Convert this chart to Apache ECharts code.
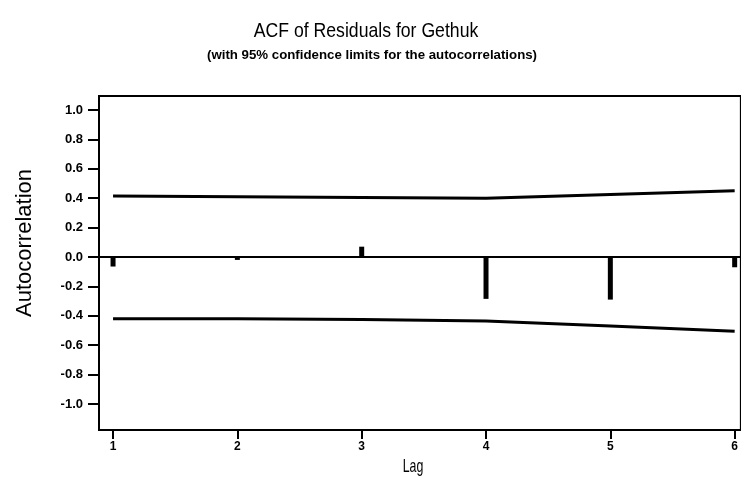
<!DOCTYPE html>
<html><head><meta charset="utf-8">
<script src="https://cdn.jsdelivr.net/npm/echarts@6/dist/echarts.min.js"></script>
<style>html,body{margin:0;padding:0;background:#fff}#c{width:741px;height:484px}</style>
</head><body><div id="c"></div>
<script>
var lags = [1, 2, 3, 4, 5, 6];
var acf = [-0.065, -0.02, 0.07, -0.285, -0.29, -0.07];
var upperLimit = [0.415, 0.41, 0.405, 0.40, 0.425, 0.45];
var lowerLimit = [-0.42, -0.42, -0.425, -0.435, -0.47, -0.505];
var yTicks = [-1.0, -0.8, -0.6, -0.4, -0.2, 0.0, 0.2, 0.4, 0.6, 0.8, 1.0];
var xTicks = [1, 2, 3, 4, 5, 6];
var titleText = 'ACF of Residuals for Gethuk';
var subtitleText = '(with 95% confidence limits for the autocorrelations)';
var xName = 'Lag';
var yName = 'Autocorrelation';

var chart = echarts.init(document.getElementById('c'));
var sans = '"Liberation Sans", Arial, sans-serif';
chart.setOption({
  backgroundColor: '#fff',
  animation: false,
  graphic: [
    {type: 'text', x: 366, y: 31, scaleX: 0.84,
     style: {text: titleText, font: 'normal 21px ' + sans, fill: '#000', textAlign: 'center', textVerticalAlign: 'middle'}},
    {type: 'text', x: 372, y: 55, scaleX: 1.02,
     style: {text: subtitleText, font: 'bold 13px ' + sans, fill: '#000', textAlign: 'center', textVerticalAlign: 'middle'}},
    {type: 'text', x: 413, y: 467, scaleX: 0.65,
     style: {text: xName, font: 'normal 19px ' + sans, fill: '#000', textAlign: 'center', textVerticalAlign: 'middle'}},
    {type: 'text', x: 25, y: 243, rotation: Math.PI / 2,
     style: {text: yName, font: 'normal 22px ' + sans, fill: '#000', textAlign: 'center', textVerticalAlign: 'middle'}}
  ],
  grid: {left: 99, right: 0, top: 96, bottom: 54, show: true, borderColor: '#000', borderWidth: 2, backgroundColor: 'transparent'},
  xAxis: {
    type: 'value', min: 0.887, max: 6.05,
    axisLine: {show: true, onZero: false, lineStyle: {color: '#000', width: 2}},
    axisTick: {show: true, customValues: xTicks, length: 9, lineStyle: {color: '#000', width: 2}},
    axisLabel: {customValues: xTicks, color: '#000', fontFamily: sans, fontWeight: 'bold', fontSize: 12, margin: 11},
    splitLine: {show: false}
  },
  yAxis: {
    type: 'value', min: -1.177, max: 1.095,
    axisLine: {show: true, onZero: false, lineStyle: {color: '#000', width: 2}},
    axisTick: {show: true, customValues: yTicks, length: 11, lineStyle: {color: '#000', width: 2}},
    axisLabel: {customValues: yTicks, color: '#000', fontFamily: sans, fontWeight: 'bold', fontSize: 13, margin: 16,
      formatter: function (v) { return v.toFixed(1); }},
    splitLine: {show: false}
  },
  series: [
    {type: 'bar', barWidth: 5, itemStyle: {color: '#000'},
     data: lags.map(function (l, i) { return [l, acf[i]]; }),
     markLine: {silent: true, symbol: 'none', label: {show: false},
       lineStyle: {color: '#000', width: 2, type: 'solid'}, data: [{yAxis: 0}]}},
    {type: 'line', showSymbol: false, symbol: 'none', lineStyle: {color: '#000', width: 3},
     data: lags.map(function (l, i) { return [l, upperLimit[i]]; })},
    {type: 'line', showSymbol: false, symbol: 'none', lineStyle: {color: '#000', width: 3},
     data: lags.map(function (l, i) { return [l, lowerLimit[i]]; })}
  ]
});
</script></body></html>
